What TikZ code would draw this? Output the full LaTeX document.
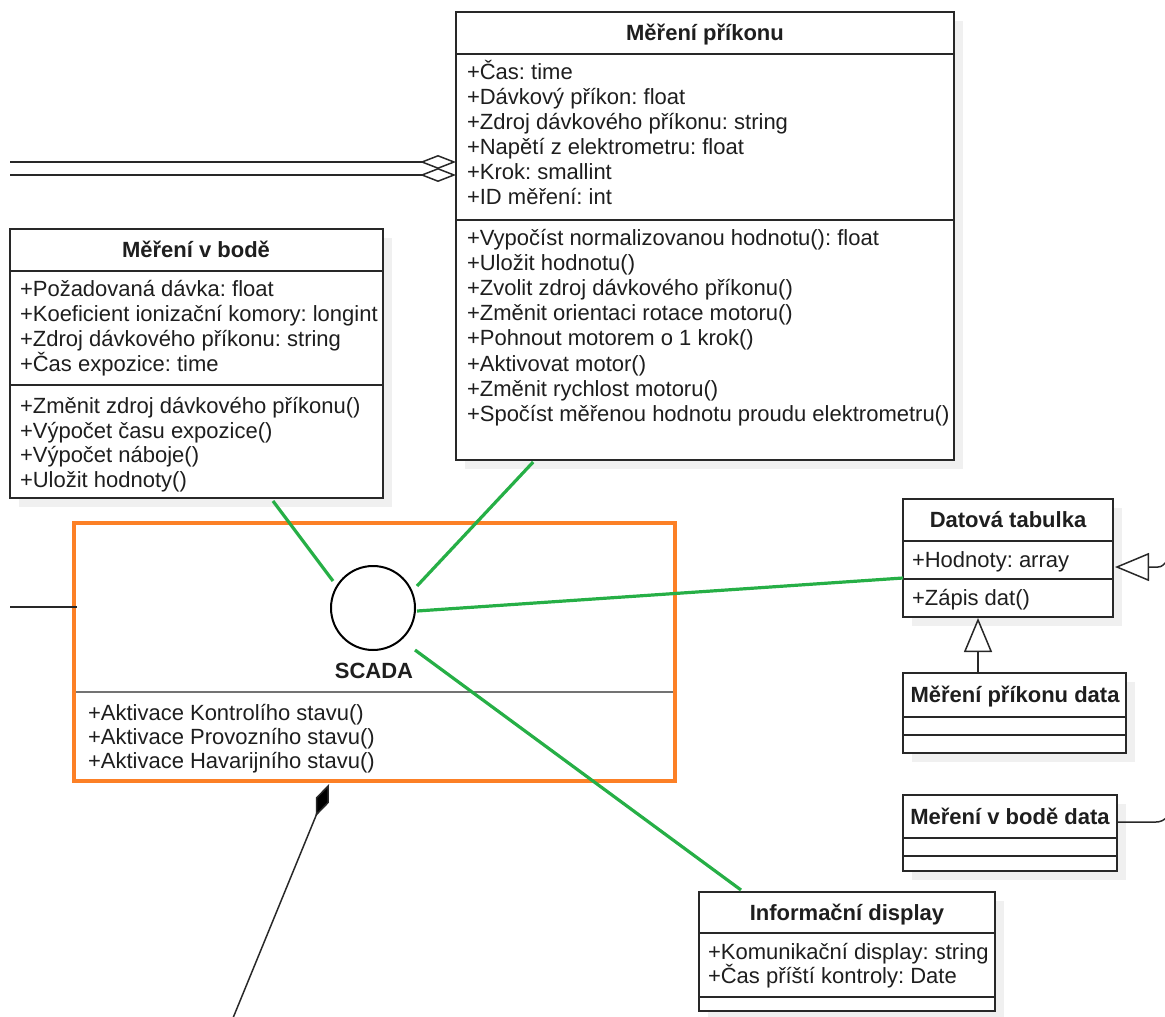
\documentclass[tikz,border=0pt]{standalone}
\usepackage{fontspec}
\setmainfont{Liberation Sans}
\usetikzlibrary{arrows.meta,calc,shadows}
\definecolor{ink}{RGB}{30,30,30}
\definecolor{edge}{RGB}{40,40,40}
\definecolor{linkgreen}{RGB}{38,175,70}
\definecolor{scadaorange}{RGB}{252,128,38}
\definecolor{shade}{RGB}{240,240,240}
\definecolor{rulegray}{RGB}{115,115,115}
\frenchspacing

\begin{document}
\begin{tikzpicture}[x=0.5pt,y=-0.5pt,
  every node/.style={inner sep=0pt, outer sep=0pt, text=ink,
    font=\fontsize{11}{12.5}\selectfont},
  umlbox/.style 2 args={draw=edge, line width=0.75pt, fill=white, anchor=north west,
    minimum width=#1*0.5pt, minimum height=#2*0.5pt,
    drop shadow={shadow xshift=4.5pt, shadow yshift=-4.5pt, fill=shade, opacity=1}},
  compart/.style={draw=edge, line width=0.75pt},
  ln/.style={anchor=west, text height=8pt, text depth=0.5pt},
  hd/.style={anchor=center, text height=8pt, text depth=0.5pt,
    font=\fontsize{11}{12.5}\selectfont\bfseries},
  link/.style={draw=linkgreen, line width=1.6pt},
  assoc/.style={draw=edge, line width=0.75pt},
  aggr/.style={assoc, -{Diamond[fill=white, length=18pt, width=7pt]}},
  compo/.style={assoc, -{Diamond[fill=black, length=17.5pt, width=7pt]}},
  gener/.style={assoc, -{Triangle[fill=white, length=17pt, width=14pt]}}
]
\useasboundingbox (0,0) rectangle (1165,1016);

% ---------- SCADA component ----------
\coordinate (a3) at (10,607);
\node[draw=scadaorange, line width=1.75pt, anchor=north west,
      minimum width=601*0.5pt, minimum height=258*0.5pt] (sc) at (74,523) {};
\draw[assoc] (a3) -- ($(sc.north west)+(3,84)$);
\node[circle, draw=black, line width=1pt, fill=white, minimum size=42pt] (ci) at (373,608) {};
\node[hd] (scl) at (374,671) {SCADA};
\draw[rulegray, line width=1pt] (76,692) -- (673,692);
\foreach \t [count=\i] in {+Aktivace Kontrolího stavu(), +Aktivace Provozního stavu(),
    +Aktivace Havarijního stavu()}
  \node[ln] (scm\i) at (88,{713+24*(\i-1)}) {\t};

% ---------- Měření příkonu ----------
\node[umlbox={498}{448}] (mp) at (456,12) {};
\draw[compart] (456,54) -- (954,54);
\draw[compart] (456,220) -- (954,220);
\node[hd] (mph) at (705,33) {Měření příkonu};
\foreach \t [count=\i] in {+Čas: time, +Dávkový příkon: float,
    +Zdroj dávkového příkonu: string, +Napětí z elektrometru: float,
    +Krok: smallint, +ID měření: int}
  \node[ln] (mpa\i) at (467,{72+25*(\i-1)}) {\t};
\foreach \t [count=\i] in {+Vypočíst normalizovanou hodnotu(): float, +Uložit hodnotu(),
    +Zvolit zdroj dávkového příkonu(), +Změnit orientaci rotace motoru(),
    +Pohnout motorem o 1 krok(), +Aktivovat motor(), +Změnit rychlost motoru(),
    +Spočíst měřenou hodnotu proudu elektrometru()}
  \node[ln] (mpm\i) at (467,{238+25.1*(\i-1)}) {\t};

% ---------- Měření v bodě ----------
\node[umlbox={373}{269}] (mb) at (10,229) {};
\draw[compart] (10,271) -- (383,271);
\draw[compart] (10,385) -- (383,385);
\node[hd] (mbh) at (196,250) {Měření v bodě};
\foreach \t [count=\i] in {+Požadovaná dávka: float, +Koeficient ionizační komory: longint,
    +Zdroj dávkového příkonu: string, +Čas expozice: time}
  \node[ln] (mba\i) at (20,{289+25*(\i-1)}) {\t};
\foreach \t [count=\i] in {+Změnit zdroj dávkového příkonu(), +Výpočet času expozice(),
    +Výpočet náboje(), +Uložit hodnoty()}
  \node[ln] (mbm\i) at (20,{406+24.6*(\i-1)}) {\t};

% ---------- Datová tabulka ----------
\node[umlbox={210}{118}] (dt) at (903,499) {};
\draw[compart] (903,541) -- (1113,541);
\draw[compart] (903,579) -- (1113,579);
\node[hd] (dth) at (1008,520) {Datová tabulka};
\node[ln] (dta1) at (912,560) {+Hodnoty: array};
\node[ln] (dtm1) at (912,598) {+Zápis dat()};

% ---------- Měření příkonu data ----------
\node[umlbox={223}{80}] (dp) at (903,673) {};
\draw[compart] (903,717) -- (1126,717);
\draw[compart] (903,735) -- (1126,735);
\node[hd] (dph) at (1015,695) {Měření příkonu data};

% ---------- Meření v bodě data ----------
\node[umlbox={214}{76}] (dv) at (903,795) {};
\draw[compart] (903,838) -- (1117,838);
\draw[compart] (903,856) -- (1117,856);
\node[hd] (dvh) at (1010,817) {Meření v bodě data};

% ---------- Informační display ----------
\node[umlbox={296}{119}] (id) at (699,892) {};
\draw[compart] (699,933) -- (995,933);
\draw[compart] (699,997) -- (995,997);
\node[hd] (idh) at (847,913) {Informační display};
\node[ln] (ida1) at (708,952) {+Komunikační display: string};
\node[ln] (ida2) at (708,976) {+Čas příští kontroly: Date};

% ---------- aggregations into Měření příkonu ----------
\coordinate (a1) at (10,162);
\coordinate (a2) at (10,175);
\draw[aggr] (a1) -- ($(mp.north west)+(0,150)$);
\draw[aggr] (a2) -- ($(mp.north west)+(0,163)$);

% ---------- composition under SCADA ----------
\coordinate (a4) at (233,1018);
\draw[compo] (a4) -- ($(sc.south west)+(255,3)$);

% ---------- generalisations ----------
\draw[gener] ($(dp.north west)+(75,0)$) -- ($(dt.south west)+(75,1)$);
\coordinate (a5) at (1167,561);
\draw[gener] (a5) to[out=225,in=0] (1158,567) -- ($(dt.north east)+(2,68)$);

% ---------- line leaving Meření v bodě data ----------
\coordinate (a6) at (1167,817);
\draw[assoc] ($(dv.north east)+(0,27)$) -- (1156,822) to[out=0,in=225] (a6);

% ---------- SCADA links ----------
\draw[link] ($(mb.south west)!0.705!(mb.south east)+(0,3)$) -- ($(ci.center)+(-40,-27)$);
\draw[link] ($(mp.south west)!0.155!(mp.south east)+(0,2)$) -- ($(ci.center)+(44,-22)$);
\draw[link] ($(ci.center)+(44,3)$) -- ($(dt.north west)+(0,79)$);
\draw[link] ($(ci.center)+(42,42)$) -- ($(id.north west)+(42,-2)$);
\end{tikzpicture}
\end{document}
